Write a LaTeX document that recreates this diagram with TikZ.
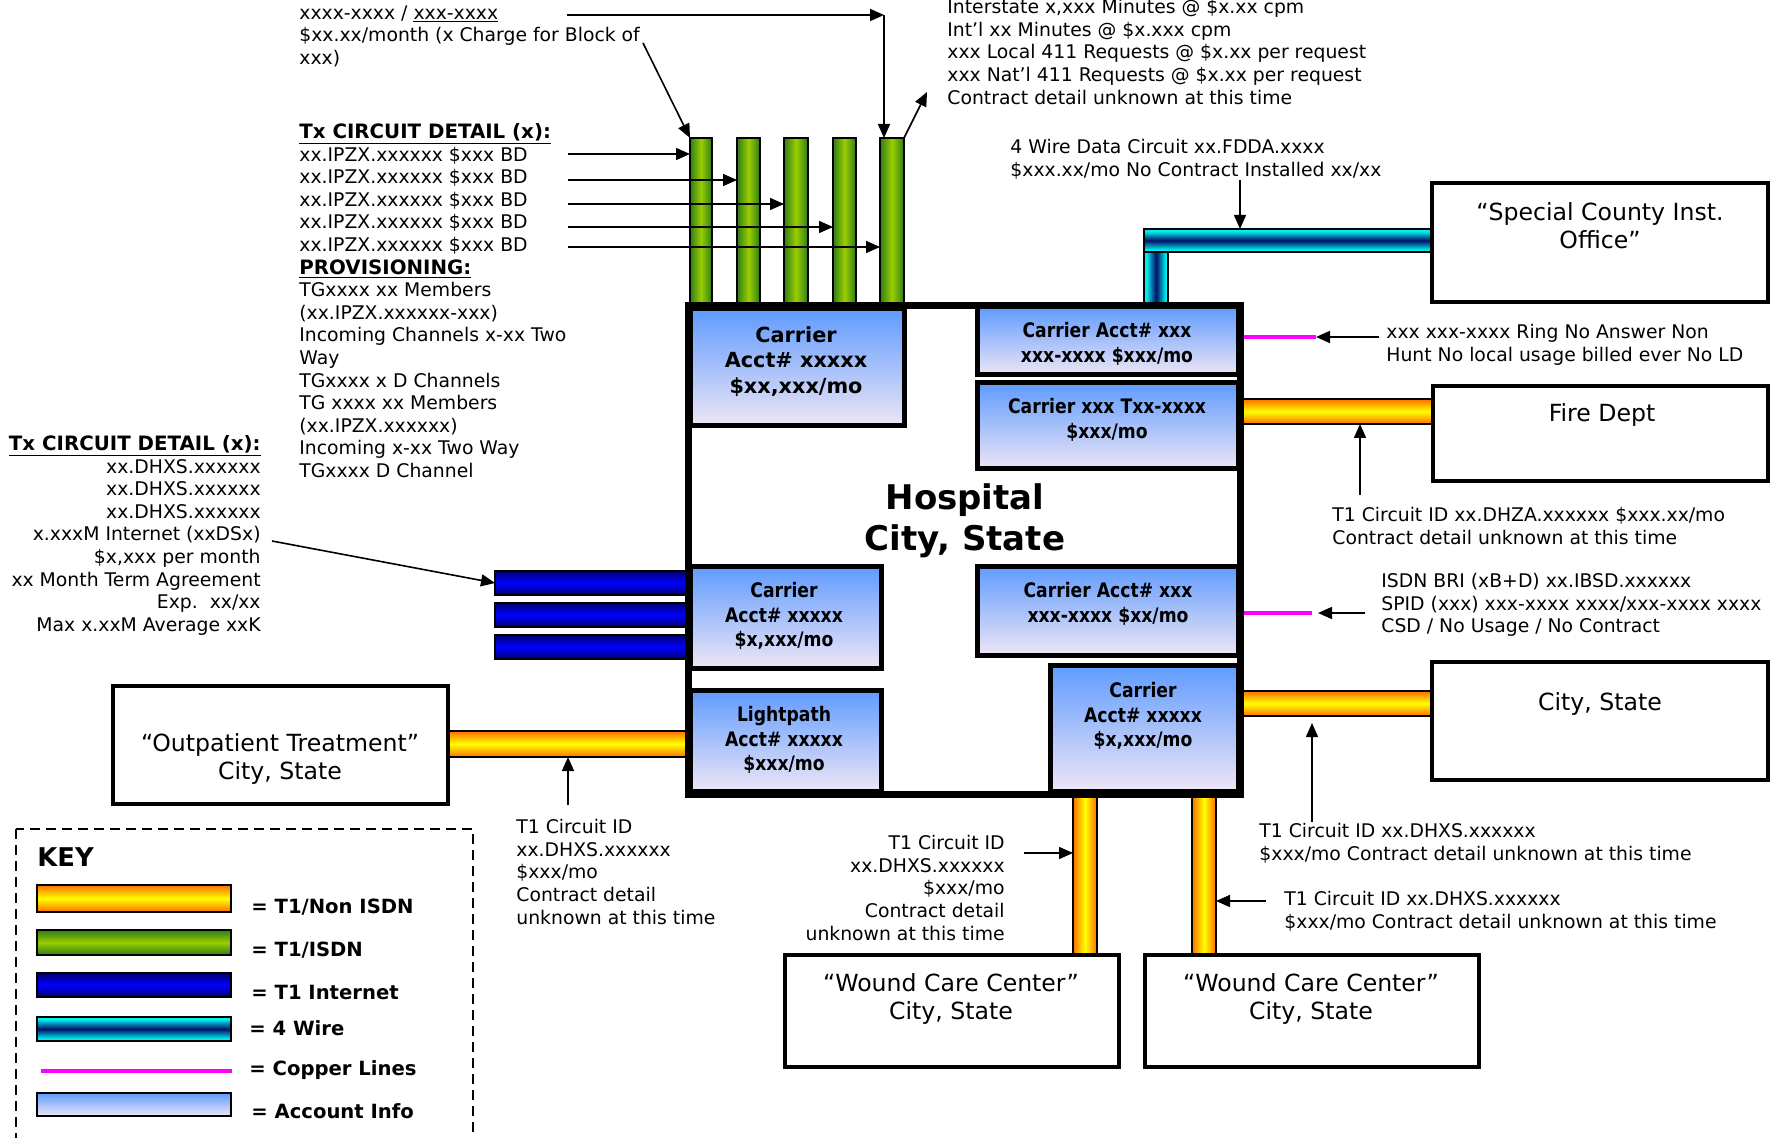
\documentclass[tikz,border=0pt]{standalone}
\usepackage{fontspec}
\setmainfont{DejaVu Sans}
\newfontfamily\narrowbold[FakeStretch=0.86]{DejaVu Sans}
\usepackage{tikz}
\usetikzlibrary{arrows.meta,fit}

\definecolor{tone}{RGB}{255,110,0}
\definecolor{toneyel}{RGB}{255,255,0}
\definecolor{isdndark}{RGB}{45,125,25}
\definecolor{isdnlight}{RGB}{155,205,0}
\definecolor{netdark}{RGB}{0,0,110}
\definecolor{netlight}{RGB}{0,0,255}
\definecolor{wirecyan}{RGB}{0,238,238}
\definecolor{wiredark}{RGB}{0,15,105}
\definecolor{accttop}{RGB}{95,155,255}
\definecolor{acctbot}{RGB}{238,230,245}
\definecolor{copper}{RGB}{255,0,255}

\pgfdeclareverticalshading{fourwire}{100bp}{color(0bp)=(wirecyan); color(30bp)=(wirecyan); color(50bp)=(wiredark); color(70bp)=(wirecyan); color(100bp)=(wirecyan)}

\newcommand{\notefont}{\fontsize{9.4}{11.3}\selectfont}
\newcommand{\headfont}{\bfseries\fontsize{9.9}{11.3}\selectfont}
\newcommand{\acctfont}{\narrowbold\bfseries\fontsize{10}{12.25}\selectfont}
\newcommand{\sitefont}{\fontsize{11.8}{14}\selectfont}

\tikzset{
  pipe/.style={draw=black,line width=1pt,inner sep=0pt,outer sep=0pt},
  tonebar/.style={pipe,top color=tone,bottom color=tone,middle color=toneyel},
  tonevbar/.style={pipe,left color=tone,right color=tone,middle color=toneyel},
  isdnbar/.style={pipe,top color=isdndark,bottom color=isdndark,middle color=isdnlight},
  isdnvbar/.style={pipe,left color=isdndark,right color=isdndark,middle color=isdnlight},
  netbar/.style={pipe,top color=netdark,bottom color=netdark,middle color=netlight},
  wirebar/.style={pipe,shading=fourwire},
  wirevbar/.style={pipe,shading=fourwire,shading angle=90},
  acctbox/.style={pipe,line width=2.5pt,top color=accttop,bottom color=acctbot},
  keyacct/.style={pipe,top color=accttop,bottom color=acctbot},
  sitebox/.style={pipe,line width=2.2pt,fill=white},
  hosp/.style={pipe,line width=3.5pt},
  copperline/.style={copper,line width=2pt},
  callout/.style={->,line width=0.8pt},
  note/.style={font=\notefont,align=left,inner sep=0pt},
  accttxt/.style={font=\acctfont,align=center,inner sep=0pt,anchor=north},
  sitetxt/.style={font=\sitefont,align=center,inner sep=0pt,anchor=north},
  keylabel/.style={font=\bfseries\fontsize{9.8}{11}\selectfont,anchor=west,inner sep=0pt}
}

\begin{document}
\begin{tikzpicture}[x=0.5pt,y=-0.5pt,>={Triangle[length=7pt,width=6pt]}]
    \useasboundingbox (0,0) rectangle (1771,1138);
    % circuits running into the building
    \node[isdnvbar,fit={(690,138)(712,306)}] (g1) {};
    \node[isdnvbar,fit={(737,138)(760,306)}] (g2) {};
    \node[isdnvbar,fit={(784,138)(808,306)}] (g3) {};
    \node[isdnvbar,fit={(833,138)(856,306)}] (g4) {};
    \node[isdnvbar,fit={(880,138)(904,306)}] (g5) {};
    \node[wirevbar,fit={(1144,240)(1168,306)}] (w2) {};
    \node[wirebar,fit={(1144,229)(1432,252)}] (w1) {};
    \node[netbar,fit={(495,571)(688,595)}] (n1) {};
    \node[netbar,fit={(495,603)(688,627)}] (n2) {};
    \node[netbar,fit={(495,635)(688,659)}] (n3) {};
    \node[tonebar,fit={(449,731)(689,757)}] (topat) {};
    \node[tonebar,fit={(1240,399)(1433,424)}] (tfire) {};
    \node[tonebar,fit={(1240,691)(1432,716)}] (tcity) {};
    \node[tonevbar,fit={(1073,794)(1097,955)}] (twcA) {};
    \node[tonevbar,fit={(1192,794)(1216,955)}] (twcB) {};
    \coordinate (cuAin) at (1240,337);
    \coordinate (cuA) at (1316,337);
    \coordinate (cuBin) at (1240,613);
    \coordinate (cuB) at (1312,613);
    \draw[copperline] (cuAin) -- (cuA);
    \draw[copperline] (cuBin) -- (cuB);
    % hospital and accounts
    \node[hosp,fit={(688,306)(1240,794)}] (hospital) {};
    \node[acctbox,fit={(690,309)(904,426)}] (acA) {};
    \node[acctbox,fit={(977,307)(1238,375)}] (acB) {};
    \node[acctbox,fit={(977,383)(1238,469)}] (acC) {};
    \node[acctbox,fit={(690,566)(881,668)}] (acD) {};
    \node[acctbox,fit={(977,566)(1238,655)}] (acE) {};
    \node[acctbox,fit={(690,690)(881,791)}] (acF) {};
    \node[acctbox,fit={(1050,665)(1238,791)}] (acG) {};
    \node[font=\bfseries\fontsize{17}{20.5}\selectfont,align=center,inner sep=0pt] (hosptxt) at (965,521) {Hospital\\City, State};
    \node[accttxt,font=\bfseries\fontsize{10.4}{12.75}\selectfont] (acAtxt) at (796,326) {Carrier\\Acct\# xxxxx\\\$xx,xxx/mo};
    \node[accttxt] (acBtxt) at (1107,322) {Carrier Acct\# xxx\\xxx-xxxx \$xxx/mo};
    \node[accttxt] (acCtxt) at (1107,398) {Carrier xxx Txx-xxxx\\\$xxx/mo};
    \node[accttxt] (acDtxt) at (784,582) {Carrier\\Acct\# xxxxx\\\$x,xxx/mo};
    \node[accttxt] (acEtxt) at (1108,582) {Carrier Acct\# xxx\\xxx-xxxx \$xx/mo};
    \node[accttxt] (acFtxt) at (784,706) {Lightpath\\Acct\# xxxxx\\\$xxx/mo};
    \node[accttxt] (acGtxt) at (1143,682) {Carrier\\Acct\# xxxxx\\\$x,xxx/mo};
    % outside sites
    \node[sitebox,fit={(1432,183)(1768,302)}] (special) {};
    \node[sitebox,fit={(1433,386)(1768,481)}] (fire) {};
    \node[sitebox,fit={(1432,662)(1768,780)}] (city) {};
    \node[sitebox,fit={(113,686)(448,804)}] (outpat) {};
    \node[sitebox,fit={(785,955)(1119,1067)}] (woundA) {};
    \node[sitebox,fit={(1145,955)(1479,1067)}] (woundB) {};
    \node[sitetxt] (specialtxt) at (1600,202) {“Special County Inst.\\Office”};
    \node[sitetxt] (firetxt) at (1602,403) {Fire Dept};
    \node[sitetxt] (citytxt) at (1600,692) {City, State};
    \node[sitetxt] (outpattxt) at (280,733) {“Outpatient Treatment”\\City, State};
    \node[sitetxt] (woundAtxt) at (951,973) {“Wound Care Center”\\City, State};
    \node[sitetxt] (woundBtxt) at (1311,973) {“Wound Care Center”\\City, State};
    % notes
    \node[note,anchor=north west] (blocknote) at (299,5) {xxxx-xxxx / \underline{xxx-xxxx}\\\$xx.xx/month (x Charge for Block of\\xxx)};
    \node[note,anchor=north west] (isdnnote) at (299,123) {{\headfont\underline{Tx CIRCUIT DETAIL (x):}}\\xx.IPZX.xxxxxx \$xxx BD\\xx.IPZX.xxxxxx \$xxx BD\\xx.IPZX.xxxxxx \$xxx BD\\xx.IPZX.xxxxxx \$xxx BD\\xx.IPZX.xxxxxx \$xxx BD\\{\headfont\underline{PROVISIONING:}}\\TGxxxx xx Members\\(xx.IPZX.xxxxxx-xxx)\\Incoming Channels x-xx Two\\Way\\TGxxxx x D Channels\\TG xxxx xx Members\\(xx.IPZX.xxxxxx)\\Incoming x-xx Two Way\\TGxxxx D Channel};
    \node[note,anchor=north west] (usagenote) at (947,-1) {Interstate x,xxx Minutes @ \$x.xx cpm\\Int’l xx Minutes @ \$x.xxx cpm\\xxx Local 411 Requests @ \$x.xx per request\\xxx Nat’l 411 Requests @ \$x.xx per request\\Contract detail unknown at this time};
    \node[note,anchor=north west] (wirenote) at (1010,139) {4 Wire Data Circuit xx.FDDA.xxxx\\\$xxx.xx/mo No Contract Installed xx/xx};
    \node[note,anchor=north west] (ringnote) at (1386,324) {xxx xxx-xxxx Ring No Answer Non\\Hunt No local usage billed ever No LD};
    \node[note,anchor=north west] (firenote) at (1332,507) {T1 Circuit ID xx.DHZA.xxxxxx \$xxx.xx/mo\\Contract detail unknown at this time};
    \node[note,anchor=north west] (brinote) at (1381,573) {ISDN BRI (xB+D) xx.IBSD.xxxxxx\\SPID (xxx) xxx-xxxx xxxx/xxx-xxxx xxxx\\CSD / No Usage / No Contract};
    \node[note,anchor=north west] (citynote) at (1259,823) {T1 Circuit ID xx.DHXS.xxxxxx\\\$xxx/mo Contract detail unknown at this time};
    \node[note,anchor=north west] (woundBnote) at (1284,891) {T1 Circuit ID xx.DHXS.xxxxxx\\\$xxx/mo Contract detail unknown at this time};
    \node[note,anchor=north east,align=right] (woundAnote) at (1005,835) {T1 Circuit ID\\xx.DHXS.xxxxxx\\\$xxx/mo\\Contract detail\\unknown at this time};
    \node[note,anchor=north west] (outpatnote) at (516,819) {T1 Circuit ID\\xx.DHXS.xxxxxx\\\$xxx/mo\\Contract detail\\unknown at this time};
    \node[note,anchor=north east,align=right] (netnote) at (261,435) {{\headfont\underline{Tx CIRCUIT DETAIL (x):}}\\xx.DHXS.xxxxxx\\xx.DHXS.xxxxxx\\xx.DHXS.xxxxxx\\x.xxxM Internet (xxDSx)\\\$x,xxx per month\\xx Month Term Agreement\\Exp.~~xx/xx\\Max x.xxM Average xxK};
    % callouts
    \coordinate (blockA) at (567,15);
    \coordinate (blockB) at (884,15);
    \coordinate (blockC) at (643,43);
    \coordinate (usageend) at (927,92);
    \draw[callout] (blockA) -- (blockB);
    \draw[callout] (blockB) -- (blockB |- g5.north);
    \draw[callout] (blockC) -- (g1.north west);
    \draw[callout] (g5.north east) -- (usageend);
    \coordinate (bd1) at (568,154);
    \coordinate (bd2) at (568,180);
    \coordinate (bd3) at (568,204);
    \coordinate (bd4) at (568,227);
    \coordinate (bd5) at (568,247);
    \draw[callout] (bd1) -- (bd1 -| g1.west);
    \draw[callout] (bd2) -- (bd2 -| g2.west);
    \draw[callout] (bd3) -- (bd3 -| g3.west);
    \draw[callout] (bd4) -- (bd4 -| g4.west);
    \draw[callout] (bd5) -- (bd5 -| g5.west);
    \coordinate (wirearr) at (1240,180);
    \draw[callout] (wirearr) -- (wirearr |- w1.north);
    \coordinate (ringarr) at (1379,337);
    \draw[callout] (ringarr) -- (cuA);
    \coordinate (firearr) at (1360,495);
    \draw[callout] (firearr) -- (firearr |- tfire.south);
    \coordinate (briarr) at (1365,613);
    \draw[callout,shorten >=3pt] (briarr) -- (cuB);
    \coordinate (cityarr) at (1312,822);
    \draw[callout,shorten >=3.5pt] (cityarr) -- (cityarr |- tcity.south);
    \coordinate (wBarr) at (1266,901);
    \draw[callout] (wBarr) -- (wBarr -| twcB.east);
    \coordinate (wAarr) at (1024,853);
    \draw[callout] (wAarr) -- (wAarr -| twcA.west);
    \coordinate (oparr) at (568,805);
    \draw[callout] (oparr) -- (oparr |- topat.south);
    \coordinate (netarr) at (272,541);
    \draw[callout] (netarr) -- (n1.west);
    % key
    \draw[line width=1pt,dash pattern=on 5pt off 3pt] (16,829) rectangle (473,1160);
    \node[font=\bfseries\fontsize{12.9}{14}\selectfont,anchor=west,inner sep=0pt] (keytitle) at (37,857) {KEY};
    \node[tonebar,fit={(37,885)(231,912)}] (ktone) {};
    \node[isdnbar,fit={(37,930)(231,955)}] (kisdn) {};
    \node[netbar,fit={(37,973)(231,997)}] (knet) {};
    \node[wirebar,fit={(37,1017)(231,1041)}] (kwire) {};
    \coordinate (kcuA) at (41,1071);
    \coordinate (kcuB) at (232,1071);
    \draw[copperline] (kcuA) -- (kcuB);
    \node[keyacct,fit={(37,1093)(231,1116)}] (kacct) {};
    \node[keylabel] (ltone) at (251,907) {= T1/Non ISDN};
    \node[keylabel] (lisdn) at (251,950) {= T1/ISDN};
    \node[keylabel] (lnet) at (251,992) {= T1 Internet};
    \node[keylabel] (lwire) at (249,1028) {= 4 Wire};
    \node[keylabel] (lcopper) at (249,1070) {= Copper Lines};
    \node[keylabel] (lacct) at (251,1111) {= Account Info};
\end{tikzpicture}
\end{document}
